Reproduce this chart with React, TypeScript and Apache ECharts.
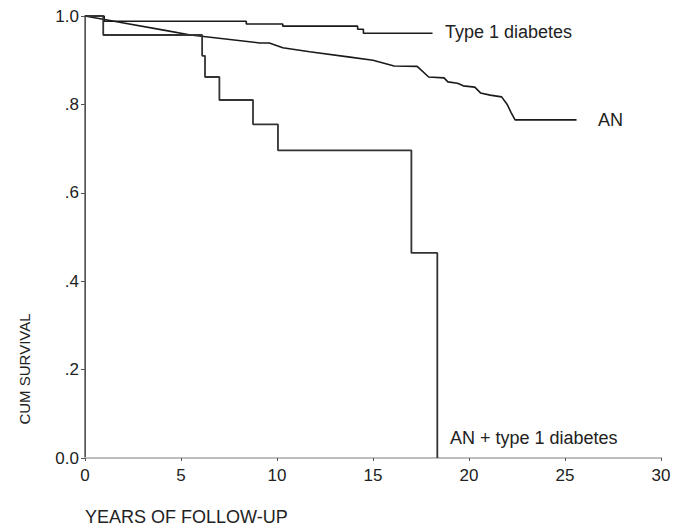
import React, { useEffect, useRef } from "react";
import * as echarts from "echarts";

// Kaplan-Meier estimates
const anYears = [0, 1.8, 4.1, 5.5, 9.1, 9.6, 10.3, 11.7, 13.8, 15.0, 16.1, 17.3, 17.9, 18.7, 18.9, 19.4, 19.7, 20.3, 20.6, 21.1, 21.7, 22.0, 22.2, 22.4, 25.6];
const anSurv = [1.0, 0.986, 0.968, 0.957, 0.939, 0.939, 0.928, 0.919, 0.907, 0.9, 0.887, 0.886, 0.862, 0.86, 0.851, 0.848, 0.842, 0.839, 0.826, 0.821, 0.817, 0.799, 0.781, 0.765, 0.765];

const t1Years = [0, 1.0, 8.4, 10.3, 14.2, 14.5, 18.1];
const t1Surv = [1.0, 0.988, 0.982, 0.977, 0.97, 0.961, 0.961];

const anT1Years = [0, 0.95, 6.1, 6.25, 7.0, 8.75, 10.05, 17.0, 18.35];
const anT1Surv = [1.0, 0.957, 0.91, 0.862, 0.81, 0.755, 0.696, 0.464, 0];

const xTicks = [0, 5, 10, 15, 20, 25, 30];
const yTickLabels: Record<string, string> = { "0": "0.0", "0.2": ".2", "0.4": ".4", "0.6": ".6", "0.8": ".8", "1": "1.0" };

const FONT = "'Liberation Sans', Arial, sans-serif";

const zip = (xs: number[], ys: number[]) => xs.map((x, i) => [x, ys[i]]);

export default function App() {
  const ref = useRef<HTMLDivElement>(null);
  useEffect(() => {
    if (!ref.current) return;
    const chart = echarts.init(ref.current, null, { renderer: "svg" });
    chart.setOption({
      animation: false,
      backgroundColor: "#ffffff",
      grid: { left: 85, right: 13, top: 16, bottom: 69 },
      xAxis: [
        {
          type: "value",
          min: xTicks[0],
          max: xTicks[xTicks.length - 1],
          interval: 5,
          axisLine: { show: true, lineStyle: { color: "#8a8a8a", width: 2 } },
          axisTick: { show: true, length: 3, lineStyle: { color: "#555", width: 1 } },
          axisLabel: { color: "#222", fontSize: 17, fontFamily: FONT, margin: 9 },
          splitLine: { show: false },
        },
        {
          type: "value",
          position: "top",
          min: 0,
          max: 30,
          axisLine: { show: true, lineStyle: { color: "#bdbdbd", width: 2 } },
          axisTick: { show: false },
          axisLabel: { show: false },
          splitLine: { show: false },
        },
      ],
      yAxis: [
        {
          type: "value",
          min: 0,
          max: 1,
          interval: 0.2,
          axisLine: { show: true, lineStyle: { color: "#8a8a8a", width: 2 } },
          axisTick: { show: true, length: 4, lineStyle: { color: "#555", width: 1 } },
          axisLabel: {
            color: "#222",
            fontSize: 17,
            fontFamily: FONT,
            margin: 6,
            formatter: (v: number) => yTickLabels[String(Math.round(v * 10) / 10)] ?? String(v),
          },
          splitLine: { show: false },
        },
        {
          type: "value",
          position: "right",
          min: 0,
          max: 1,
          axisLine: { show: true, lineStyle: { color: "#555", width: 1 } },
          axisTick: { show: false },
          axisLabel: { show: false },
          splitLine: { show: false },
        },
      ],
      series: [
        {
          name: "Type 1 diabetes",
          type: "line",
          step: "end",
          data: zip(t1Years, t1Surv),
          showSymbol: false,
          lineStyle: { color: "#1a1a1a", width: 1.6 },
        },
        {
          name: "AN",
          type: "line",
          data: zip(anYears, anSurv),
          showSymbol: false,
          lineStyle: { color: "#1a1a1a", width: 1.6 },
        },
        {
          name: "AN + type 1 diabetes",
          type: "line",
          step: "end",
          data: zip(anT1Years, anT1Surv),
          showSymbol: false,
          lineStyle: { color: "#333", width: 1.8 },
        },
      ],
      graphic: [
        { type: "text", left: 445, top: 23, style: { text: "Type 1 diabetes", fontSize: 18, fontFamily: FONT, fill: "#222" } },
        { type: "text", left: 598, top: 111, style: { text: "AN", fontSize: 18, fontFamily: FONT, fill: "#222" } },
        { type: "text", left: 450, top: 429, style: { text: "AN + type 1 diabetes", fontSize: 18, fontFamily: FONT, fill: "#222" } },
        { type: "text", left: 85, top: 508, style: { text: "YEARS OF FOLLOW-UP", fontSize: 18, fontFamily: FONT, fill: "#222" } },
        {
          type: "text",
          x: 24,
          y: 369,
          rotation: Math.PI / 2,
          style: { text: "CUM SURVIVAL", fontSize: 15, fontFamily: FONT, fill: "#222", align: "center", verticalAlign: "middle" },
        },
      ],
    });
    return () => chart.dispose();
  }, []);
  return <div ref={ref} style={{ position: "fixed", left: 0, top: 0, width: 674, height: 527 }} />;
}
